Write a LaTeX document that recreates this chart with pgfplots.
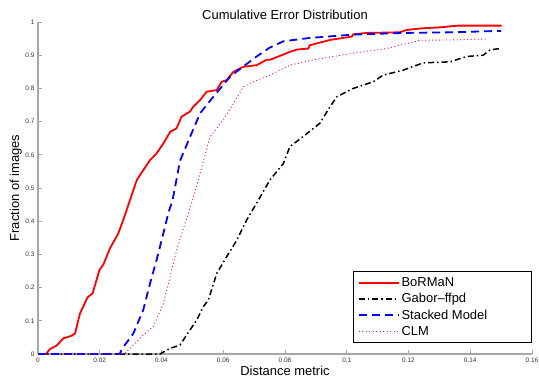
\documentclass[border=0pt]{standalone}
\usepackage{pgfplots}
\pgfplotsset{compat=1.18}
\usepackage{fontspec}
\setmainfont{Liberation Sans}
\begin{document}
\begin{tikzpicture}
\begin{axis}[
  name=ax,
  scale only axis,
  width=494bp, height=332bp,
  xmin=0, xmax=0.16, ymin=0, ymax=1,
  axis x line=bottom, axis y line=left,
  axis line style={gray!70, line width=1.3bp, -},
  xtick={0,0.02,...,0.16},
  ytick={0,0.1,...,1},
  tick align=inside,
  major tick length=4bp,
  tick style={gray!70, line width=0.8bp},
  tick label style={font=\fontsize{6.5}{7}\selectfont, text=black!80},
  /pgf/number format/assume math mode=true,
  /pgf/number format/fixed,
  /pgf/number format/precision=2,
  title={Cumulative Error Distribution},
  title style={at={(0.5,1)}, anchor=base, yshift=-3.5bp, font=\fontsize{13}{15}\selectfont, inner sep=0pt},
  xlabel={Distance metric},
  xlabel style={at={(0.5,0)}, anchor=base, yshift=-21bp, font=\fontsize{13}{15}\selectfont, inner sep=0pt},
  ylabel={Fraction of images},
  ylabel style={at={(0,0.5)}, rotate=0, anchor=base, yshift=19bp, font=\fontsize{13}{15}\selectfont, inner sep=0pt},
  legend style={at={(1,0.033)}, anchor=south east, draw=black, line width=0.8bp,
    font=\fontsize{13}{15}\selectfont, row sep=1.5bp, inner xsep=4bp, inner ysep=4bp,
    nodes={inner sep=2bp}},
  legend cell align=left,
  legend image code/.code={\draw[#1] (0bp,0bp) -- (40bp,0bp);},
]
\addplot[red, line width=1.8bp] coordinates {
(0,0) (0.0026,0) (0.0039,0.015) (0.006,0.025) (0.0082,0.047) (0.0109,0.055) (0.012,0.062) (0.0136,0.122) (0.016,0.17) (0.0177,0.183) (0.0199,0.253) (0.0212,0.27) (0.0233,0.318) (0.026,0.363) (0.0282,0.419) (0.0298,0.464) (0.032,0.524) (0.0341,0.554) (0.0363,0.584) (0.0384,0.604) (0.0406,0.634) (0.0428,0.669) (0.0449,0.68) (0.0465,0.715) (0.0492,0.73) (0.0503,0.745) (0.0525,0.765) (0.0546,0.79) (0.0579,0.795) (0.0595,0.82) (0.0611,0.825) (0.0633,0.85) (0.0665,0.865) (0.0708,0.87) (0.074,0.886) (0.0751,0.886) (0.0816,0.91) (0.0838,0.917) (0.0876,0.92) (0.088,0.93) (0.0946,0.946) (0.1016,0.956) (0.1021,0.963) (0.1064,0.967) (0.1172,0.969) (0.1194,0.976) (0.1243,0.981) (0.1302,0.984) (0.1361,0.989) (0.1502,0.989)
};
\addlegendentry{\makebox[124bp][l]{BoRMaN}}
\addplot[black, line width=1.5bp, dash pattern=on 6bp off 3bp on 1.5bp off 3bp] coordinates {
(0,0) (0.0395,0) (0.0428,0.017) (0.046,0.027) (0.0492,0.072) (0.0514,0.102) (0.0535,0.142) (0.0552,0.163) (0.0579,0.243) (0.0611,0.293) (0.0644,0.343) (0.0676,0.404) (0.0708,0.454) (0.0751,0.524) (0.0795,0.574) (0.0816,0.625) (0.0859,0.655) (0.0913,0.695) (0.0946,0.745) (0.0968,0.775) (0.1021,0.8) (0.1086,0.82) (0.1118,0.84) (0.1183,0.855) (0.1248,0.877) (0.1334,0.88) (0.1388,0.896) (0.1442,0.9) (0.1464,0.916) (0.1496,0.92)
};
\addlegendentry{Gabor--ffpd}
\addplot[blue, line width=1.8bp, dash pattern=on 8bp off 5bp] coordinates {
(0,0) (0.0265,0) (0.0271,0.014) (0.0309,0.062) (0.0341,0.133) (0.0363,0.213) (0.0384,0.283) (0.0406,0.363) (0.0422,0.424) (0.0436,0.464) (0.046,0.582) (0.0492,0.653) (0.0525,0.725) (0.0568,0.775) (0.0622,0.835) (0.0665,0.866) (0.0708,0.896) (0.0751,0.923) (0.0795,0.942) (0.088,0.952) (0.1021,0.962) (0.1183,0.967) (0.1345,0.969) (0.1486,0.973) (0.15,0.973)
};
\addlegendentry{Stacked Model}
\addplot[magenta, line width=0.9bp, dash pattern=on 1bp off 2.5bp] coordinates {
(0,0) (0.028,0) (0.0287,0.007) (0.0341,0.057) (0.0373,0.082) (0.0406,0.152) (0.0428,0.233) (0.0449,0.313) (0.0476,0.393) (0.0501,0.464) (0.0525,0.544) (0.0557,0.654) (0.06,0.705) (0.0633,0.755) (0.0665,0.805) (0.0697,0.82) (0.0751,0.84) (0.0816,0.87) (0.0892,0.886) (0.1021,0.906) (0.1129,0.92) (0.1237,0.945) (0.1345,0.946) (0.1451,0.949)
};
\addlegendentry{CLM}
\end{axis}
\pgfresetboundingbox
\path (ax.south west) ++(-38bp,-28bp) rectangle ++(539bp,382bp);
\end{tikzpicture}
\end{document}
